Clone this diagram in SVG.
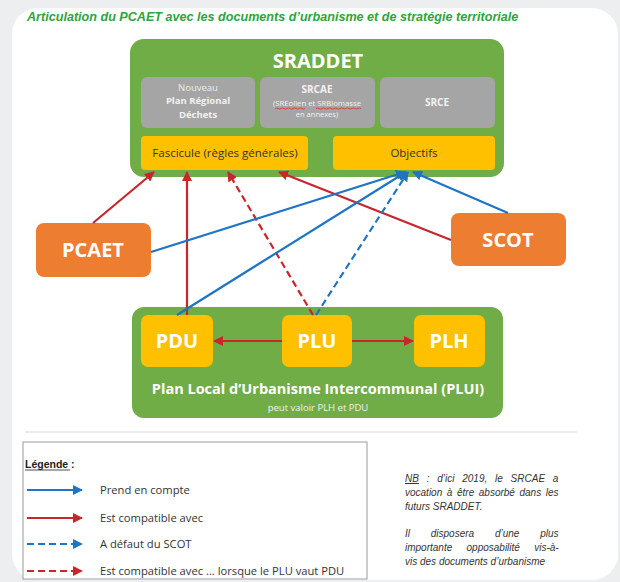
<svg xmlns="http://www.w3.org/2000/svg" width="620" height="582" viewBox="0 0 620 582">
<defs>
<style>
.t{font-family:"Open Sans","Liberation Sans",sans-serif;}
.big{font-family:"Open Sans","Liberation Sans",sans-serif;font-weight:bold;fill:#fff;text-anchor:middle;}
.gray{fill:#a5a5a5;}
.yel{fill:#ffc000;}
.org{fill:#ed7d31;}
.grn{fill:#70ad47;}
.red{stroke:#c8262b;stroke-width:2.2;fill:none;marker-end:url(#ar);}
.blue{stroke:#1f74c4;stroke-width:2.2;fill:none;marker-end:url(#ab);}
.dash{stroke-dasharray:7 4;}
.lg{font-family:"Open Sans","Liberation Sans",sans-serif;font-size:11.2px;fill:#333;}
.nb{font-family:"Liberation Sans",sans-serif;font-size:10px;font-style:italic;fill:#333;}
</style>
<marker id="ar" viewBox="0 0 10 10" refX="9" refY="5" markerWidth="10" markerHeight="10" markerUnits="userSpaceOnUse" orient="auto"><path d="M0,0 L10,5 L0,10 z" fill="#c8262b"/></marker>
<marker id="ab" viewBox="0 0 10 10" refX="9" refY="5" markerWidth="10" markerHeight="10" markerUnits="userSpaceOnUse" orient="auto"><path d="M0,0 L10,5 L0,10 z" fill="#1f74c4"/></marker>
</defs>
<rect width="620" height="582" fill="#eceef0"/>
<rect x="12" y="8" width="606" height="572" rx="26" fill="#ffffff"/>
<text x="27" y="21" font-family="Liberation Sans,sans-serif" font-size="12.6" font-weight="bold" font-style="italic" fill="#2ea43c">Articulation du PCAET avec les documents d’urbanisme et de stratégie territoriale</text>

<g id="sraddet">
<rect class="grn" x="130" y="39" width="374" height="138" rx="14"/>
<text class="big" x="318" y="68" font-size="20">SRADDET</text>
</g>
<g id="plan-regional-dechets">
<rect class="gray" x="141" y="77" width="114" height="51" rx="6"/>
<text class="t" x="198" y="91" font-size="9.5" fill="#ececec" text-anchor="middle">Nouveau</text>
<text class="t" x="198" y="104" font-size="9.5" font-weight="bold" fill="#f2f2f2" text-anchor="middle">Plan Régional</text>
<text class="t" x="198" y="118" font-size="9.5" font-weight="bold" fill="#f2f2f2" text-anchor="middle">Déchets</text>
</g>
<g id="srcae">
<rect class="gray" x="260" y="77" width="115" height="51" rx="6"/>
<text class="t" x="317" y="93" font-size="10" font-weight="bold" fill="#f2f2f2" text-anchor="middle">SRCAE</text>
<text class="t" x="317" y="106" font-size="7.5" fill="#f2f2f2" text-anchor="middle" textLength="88" lengthAdjust="spacingAndGlyphs">(SREolien et SRBiomasse</text>
<path d="M275,108.5 q1.5,-1 3,0 t3,0 t3,0 t3,0 t3,0 t3,0 t3,0 t3,0 t3,0 t3,0 M316,108.5 q1.5,-1 3,0 t3,0 t3,0 t3,0 t3,0 t3,0 t3,0 t3,0 t3,0 t3,0 t3,0 t3,0 t3,0 t3,0 t3,0" stroke="#d43a3a" stroke-width="0.9" fill="none"/>
<text class="t" x="317" y="117" font-size="7.5" fill="#f2f2f2" text-anchor="middle">en annexes)</text>
</g>
<g id="srce">
<rect class="gray" x="380" y="77" width="115" height="51" rx="6"/>
<text class="t" x="437" y="106" font-size="10" font-weight="bold" fill="#f2f2f2" text-anchor="middle">SRCE</text>
</g>
<g id="fascicule">
<rect class="yel" x="141" y="136" width="167" height="34" rx="4"/>
<text class="t" x="225" y="157" font-size="11.5" fill="#333" text-anchor="middle">Fascicule (règles générales)</text>
</g>
<g id="objectifs">
<rect class="yel" x="333" y="136" width="162" height="34" rx="4"/>
<text class="t" x="414" y="157" font-size="11.5" fill="#333" text-anchor="middle">Objectifs</text>
</g>

<g id="pcaet">
<rect class="org" x="36" y="223" width="115" height="54" rx="8"/>
<text class="big" x="93" y="257" font-size="20">PCAET</text>
</g>
<g id="scot">
<rect class="org" x="451" y="213" width="115" height="53" rx="8"/>
<text class="big" x="508" y="247" font-size="20">SCOT</text>
</g>

<g id="plui">
<rect class="grn" x="132" y="307" width="371" height="111" rx="12"/>
<text class="big" x="318" y="394" font-size="14.5">Plan Local d’Urbanisme Intercommunal (PLUI)</text>
<text class="t" x="318" y="411" font-size="9.5" fill="#f2f2f2" text-anchor="middle">peut valoir PLH et PDU</text>
</g>
<g id="pdu">
<rect class="yel" x="141" y="315" width="72" height="52" rx="7"/>
<text class="big" x="177" y="348" font-size="20">PDU</text>
</g>
<g id="plu">
<rect class="yel" x="282" y="315" width="70" height="52" rx="7"/>
<text class="big" x="317" y="348" font-size="20">PLU</text>
</g>
<g id="plh">
<rect class="yel" x="414" y="315" width="71" height="52" rx="7"/>
<text class="big" x="449" y="348" font-size="20">PLH</text>
</g>

<g id="connectors">
<line class="red" x1="93" y1="223" x2="154" y2="172"/>
<line class="red" x1="187" y1="315" x2="187" y2="172"/>
<line class="red dash" x1="313" y1="315" x2="228" y2="172"/>
<line class="red" x1="451" y1="240" x2="279" y2="172"/>
<line class="blue" x1="151" y1="252" x2="405" y2="172"/>
<line class="blue" x1="177" y1="315" x2="406" y2="172"/>
<line class="blue dash" x1="316" y1="315" x2="408" y2="172"/>
<line class="blue" x1="508" y1="213" x2="413" y2="172"/>
<line class="red" x1="282" y1="341" x2="214" y2="341"/>
<line class="red" x1="352" y1="341" x2="413" y2="341"/>
</g>

<line x1="25" y1="432" x2="577" y2="432" stroke="#e4e4e4" stroke-width="1.5"/>

<g id="legend">
<rect x="23" y="442" width="344" height="137" fill="#fff" stroke="#9a9a9a" stroke-width="1"/>
<text x="25" y="468" font-family="Liberation Sans,sans-serif" font-size="10.5" font-weight="bold" fill="#222">Légende :</text>
<line x1="25" y1="470" x2="70" y2="470" stroke="#222" stroke-width="0.8"/>
<line class="blue" x1="27" y1="490" x2="82" y2="490"/>
<text class="lg" x="100" y="494">Prend en compte</text>
<line class="red" x1="27" y1="518" x2="82" y2="518"/>
<text class="lg" x="100" y="522">Est compatible avec</text>
<line class="blue dash" x1="27" y1="544" x2="82" y2="544"/>
<text class="lg" x="100" y="548">A défaut du SCOT</text>
<line class="red dash" x1="27" y1="571" x2="82" y2="571"/>
<text class="lg" x="100" y="575">Est compatible avec ... lorsque le PLU vaut PDU</text>
</g>

<g id="note">
<text class="nb" x="405" y="482" word-spacing="5"><tspan text-decoration="underline">NB</tspan> : d’ici 2019, le SRCAE a</text>
<text class="nb" x="405" y="496" word-spacing="1.8">vocation à être absorbé dans les</text>
<text class="nb" x="405" y="510">futurs SRADDET.</text>
<text class="nb" x="405" y="537" word-spacing="18">Il disposera d’une plus</text>
<text class="nb" x="405" y="551" word-spacing="11.5">importante opposabilité vis-à-</text>
<text class="nb" x="405" y="565">vis des documents d’urbanisme</text>
</g>
</svg>
